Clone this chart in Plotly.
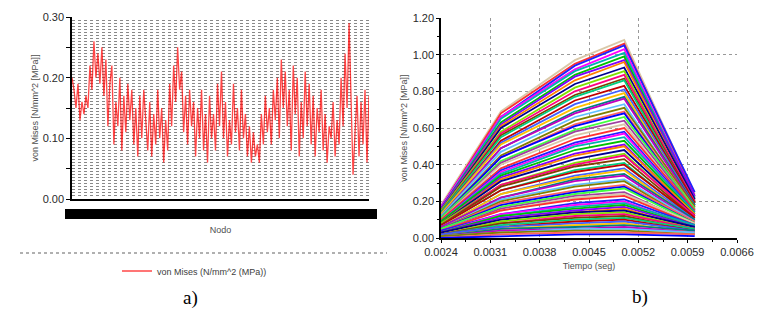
import plotly.graph_objects as go

W, H = 777, 316

# ---------- Panel a) data: von Mises per node ----------
vm_nodes = [
    0.20, 0.18, 0.15, 0.19, 0.13, 0.16, 0.14, 0.17, 0.15, 0.22,
    0.18, 0.26, 0.20, 0.24, 0.19, 0.25, 0.17, 0.23, 0.12, 0.19,
    0.22, 0.09, 0.16, 0.12, 0.20, 0.08, 0.17, 0.11, 0.19, 0.13,
    0.18, 0.09, 0.15, 0.07, 0.17, 0.10, 0.18, 0.12, 0.08, 0.16,
    0.07, 0.14, 0.09, 0.18, 0.10, 0.15, 0.06, 0.13, 0.08, 0.19,
    0.12, 0.22, 0.16, 0.25, 0.18, 0.21, 0.11, 0.17, 0.09, 0.18,
    0.12, 0.16, 0.07, 0.15, 0.10, 0.18, 0.08, 0.14, 0.06, 0.17,
    0.10, 0.14, 0.08, 0.19, 0.12, 0.21, 0.10, 0.16, 0.07, 0.13,
    0.09, 0.19, 0.11, 0.15, 0.08, 0.18, 0.10, 0.14, 0.07, 0.12,
    0.06, 0.11, 0.07, 0.09, 0.06, 0.14, 0.09, 0.17, 0.11, 0.15,
    0.09, 0.18, 0.13, 0.20, 0.10, 0.23, 0.15, 0.21, 0.12, 0.18,
    0.08, 0.22, 0.14, 0.20, 0.07, 0.16, 0.10, 0.21, 0.12, 0.19,
    0.09, 0.17, 0.07, 0.15, 0.11, 0.18, 0.08, 0.14, 0.06, 0.12,
    0.10, 0.16, 0.07, 0.13, 0.09, 0.20, 0.12, 0.24, 0.15, 0.29,
    0.18, 0.04, 0.11, 0.17, 0.07, 0.16, 0.09, 0.18, 0.06, 0.17,
]
node_ids = list(range(1, len(vm_nodes) + 1))
a_ytickvals = [0.0, 0.05, 0.10, 0.15, 0.20, 0.25, 0.30]
a_yticktext = ["0.00", "", "0.10", "", "0.20", "", "0.30"]

# ---------- Panel b) data: von Mises vs time, one line per node ----------
tiempo = [0.0024, 0.00325, 0.0043, 0.0050, 0.0060]
vm_t1 = [0.18, 0.17, 0.17, 0.17, 0.16, 0.16, 0.16, 0.15, 0.15, 0.15,
         0.14, 0.14, 0.14, 0.13, 0.13, 0.13, 0.12, 0.12, 0.12, 0.11,
         0.11, 0.11, 0.11, 0.10, 0.10, 0.10, 0.09, 0.09, 0.09, 0.09,
         0.08, 0.08, 0.08, 0.08, 0.07, 0.07, 0.07, 0.07, 0.06, 0.06,
         0.06, 0.06, 0.05, 0.05, 0.05, 0.05, 0.05, 0.04, 0.04, 0.04,
         0.04, 0.03, 0.03, 0.03, 0.03, 0.03, 0.03, 0.02, 0.02, 0.02,
         0.02, 0.02, 0.02, 0.01, 0.01, 0.01, 0.01, 0.01, 0.00, 0.00]
vm_t2 = [0.69, 0.68, 0.66, 0.66, 0.65, 0.63, 0.62, 0.61, 0.60, 0.58,
         0.57, 0.56, 0.55, 0.53, 0.52, 0.51, 0.49, 0.49, 0.47, 0.45,
         0.44, 0.44, 0.42, 0.41, 0.40, 0.38, 0.37, 0.36, 0.35, 0.34,
         0.33, 0.32, 0.31, 0.29, 0.29, 0.28, 0.26, 0.26, 0.24, 0.24,
         0.22, 0.22, 0.21, 0.20, 0.19, 0.18, 0.17, 0.16, 0.15, 0.15,
         0.13, 0.13, 0.12, 0.12, 0.11, 0.10, 0.10, 0.09, 0.08, 0.08,
         0.07, 0.06, 0.06, 0.05, 0.05, 0.04, 0.03, 0.03, 0.02, 0.01]
vm_t3 = [0.97, 0.95, 0.94, 0.92, 0.91, 0.89, 0.88, 0.86, 0.84, 0.82,
         0.80, 0.78, 0.77, 0.75, 0.73, 0.71, 0.69, 0.68, 0.66, 0.64,
         0.62, 0.61, 0.59, 0.58, 0.56, 0.54, 0.52, 0.51, 0.50, 0.48,
         0.46, 0.45, 0.43, 0.41, 0.40, 0.39, 0.37, 0.36, 0.34, 0.33,
         0.32, 0.31, 0.29, 0.28, 0.26, 0.25, 0.24, 0.23, 0.22, 0.21,
         0.19, 0.18, 0.17, 0.16, 0.15, 0.14, 0.14, 0.13, 0.12, 0.11,
         0.10, 0.09, 0.08, 0.07, 0.06, 0.05, 0.05, 0.04, 0.03, 0.02]
vm_t4 = [1.08, 1.06, 1.05, 1.03, 1.01, 0.99, 0.97, 0.96, 0.93, 0.91,
         0.89, 0.87, 0.86, 0.83, 0.81, 0.79, 0.77, 0.76, 0.73, 0.71,
         0.69, 0.68, 0.66, 0.64, 0.62, 0.60, 0.58, 0.57, 0.55, 0.53,
         0.51, 0.50, 0.48, 0.46, 0.45, 0.43, 0.41, 0.40, 0.38, 0.37,
         0.35, 0.34, 0.32, 0.31, 0.29, 0.28, 0.27, 0.25, 0.24, 0.23,
         0.21, 0.20, 0.19, 0.18, 0.17, 0.16, 0.15, 0.14, 0.13, 0.12,
         0.11, 0.10, 0.09, 0.08, 0.07, 0.06, 0.05, 0.04, 0.03, 0.02]
vm_t5 = [0.24, 0.23, 0.25, 0.22, 0.22, 0.21, 0.23, 0.20, 0.21, 0.19,
         0.20, 0.19, 0.18, 0.19, 0.18, 0.17, 0.18, 0.17, 0.16, 0.17,
         0.16, 0.15, 0.16, 0.15, 0.14, 0.15, 0.14, 0.13, 0.14, 0.13,
         0.12, 0.13, 0.12, 0.11, 0.12, 0.11, 0.10, 0.11, 0.10, 0.09,
         0.10, 0.09, 0.09, 0.08, 0.09, 0.08, 0.08, 0.07, 0.08, 0.07,
         0.07, 0.06, 0.07, 0.06, 0.06, 0.05, 0.06, 0.05, 0.05, 0.04,
         0.05, 0.04, 0.04, 0.03, 0.04, 0.03, 0.03, 0.02, 0.02, 0.01]
line_colors = ["#d9c8a8", "#ff3030", "#2020ff", "#ff00ff", "#00b0b0", "#00c000",
               "#8000ff", "#ff8000", "#000090", "#80e000", "#ff0080", "#804000",
               "#00d080", "#c00000", "#4060ff", "#ffc000", "#008080", "#c000c0",
               "#60c0ff", "#808000", "#ff6060", "#0000ff", "#40ff40", "#a040a0"]

fig = go.Figure()

fig.add_trace(go.Scatter(
    x=node_ids, y=vm_nodes, mode="lines",
    line=dict(color="rgba(255,0,0,0.72)", width=1.3),
    name="von Mises (N/mm^2 (MPa))", xaxis="x", yaxis="y", showlegend=True))

for i in range(len(vm_t4)):
    fig.add_trace(go.Scatter(
        x=tiempo, y=[vm_t1[i], vm_t2[i], vm_t3[i], vm_t4[i], vm_t5[i]],
        mode="lines", line=dict(color=line_colors[i % len(line_colors)], width=1.8),
        xaxis="x2", yaxis="y2", showlegend=False, hoverinfo="skip"))

def px_x(p):
    return p / W

def px_y(p):
    return 1 - p / H

tick_font = dict(family="Liberation Sans, Arial, sans-serif", size=11, color="#2a2a2a")
title_font = dict(family="Liberation Sans, Arial, sans-serif", size=9, color="#505050")

fig.update_layout(
    width=W, height=H, autosize=False,
    margin=dict(l=0, r=0, t=0, b=0, autoexpand=False),
    paper_bgcolor="white", plot_bgcolor="white",
    showlegend=True,
    legend=dict(x=px_x(117), y=px_y(271), xanchor="left", yanchor="middle",
                orientation="h", bgcolor="rgba(0,0,0,0)",
                font=dict(family="Liberation Sans, Arial, sans-serif", size=9, color="#404040")),
    xaxis=dict(domain=[px_x(72), px_x(369)], range=[1, len(vm_nodes)], automargin=False,
               showticklabels=False, ticks="", showgrid=False, zeroline=False,
               showline=True, linecolor="black", linewidth=2,
               title=dict(text="Nodo", font=title_font, standoff=27)),
    yaxis=dict(domain=[px_y(199), px_y(17)], range=[0, 0.30], automargin=False,
               tickmode="array", tickvals=a_ytickvals, ticktext=a_yticktext,
               ticks="outside", ticklen=4, tickcolor="black", tickfont=tick_font,
               showline=True, linecolor="black", linewidth=1.5, zeroline=False,
               showgrid=True, gridcolor="#777777", griddash="dot", gridwidth=1,
               minor=dict(tickmode="linear", tick0=0, dtick=0.005, ticks="",
                          showgrid=True, gridcolor="#888888", griddash="dot", gridwidth=1),
               title=dict(text="von Mises [N/mm^2 [MPa]]", font=title_font, standoff=2)),
    xaxis2=dict(domain=[px_x(441), px_x(737)], range=[0.0024, 0.0066], anchor="y2",
                automargin=False,
                tickmode="linear", tick0=0.0024, dtick=0.0007, tickformat=".4f",
                ticks="outside", ticklen=3, tickcolor="black", tickfont=tick_font,
                showline=True, linecolor="black", linewidth=1.5, zeroline=False,
                showgrid=True, gridcolor="#999999", griddash="dot", gridwidth=1,
                minor=dict(tickmode="linear", tick0=0.0024, dtick=0.00035, ticks="outside",
                           ticklen=2, tickcolor="black", showgrid=False),
                title=dict(text="Tiempo (seg)", font=title_font, standoff=6)),
    yaxis2=dict(domain=[px_y(238), px_y(18)], range=[0, 1.2], anchor="x2",
                automargin=False,
                tickmode="linear", tick0=0, dtick=0.2, tickformat=".2f",
                ticks="outside", ticklen=3, tickcolor="black", tickfont=tick_font,
                showline=True, linecolor="black", linewidth=1.5, zeroline=False,
                showgrid=True, gridcolor="#999999", griddash="dot", gridwidth=1,
                minor=dict(tickmode="linear", tick0=0, dtick=0.1, ticks="outside",
                           ticklen=2, tickcolor="black", showgrid=False),
                title=dict(text="von Mises [N/mm^2 [MPa]]", font=title_font, standoff=3)),
    shapes=[
        # overlapping node labels rendered as a solid black band
        dict(type="rect", xref="paper", yref="paper",
             x0=px_x(65), x1=px_x(377), y0=px_y(219), y1=px_y(209),
             fillcolor="black", line=dict(width=0)),
        # dotted separator above legend
        dict(type="line", xref="paper", yref="paper",
             x0=px_x(20), x1=px_x(387), y0=px_y(253), y1=px_y(253),
             line=dict(color="#b0b0b0", width=2, dash="dot")),
    ],
    annotations=[
        dict(text="a)", xref="paper", yref="paper", x=px_x(190), y=px_y(298),
             showarrow=False, xanchor="center", yanchor="middle",
             font=dict(family="Liberation Serif, Times New Roman, serif", size=19, color="black")),
        dict(text="b)", xref="paper", yref="paper", x=px_x(640), y=px_y(297),
             showarrow=False, xanchor="center", yanchor="middle",
             font=dict(family="Liberation Serif, Times New Roman, serif", size=19, color="black")),
    ],
)

fig.write_html("out.html",
               config={"displayModeBar": False},
               post_script="document.body.style.margin='0';document.body.style.overflow='hidden';")
